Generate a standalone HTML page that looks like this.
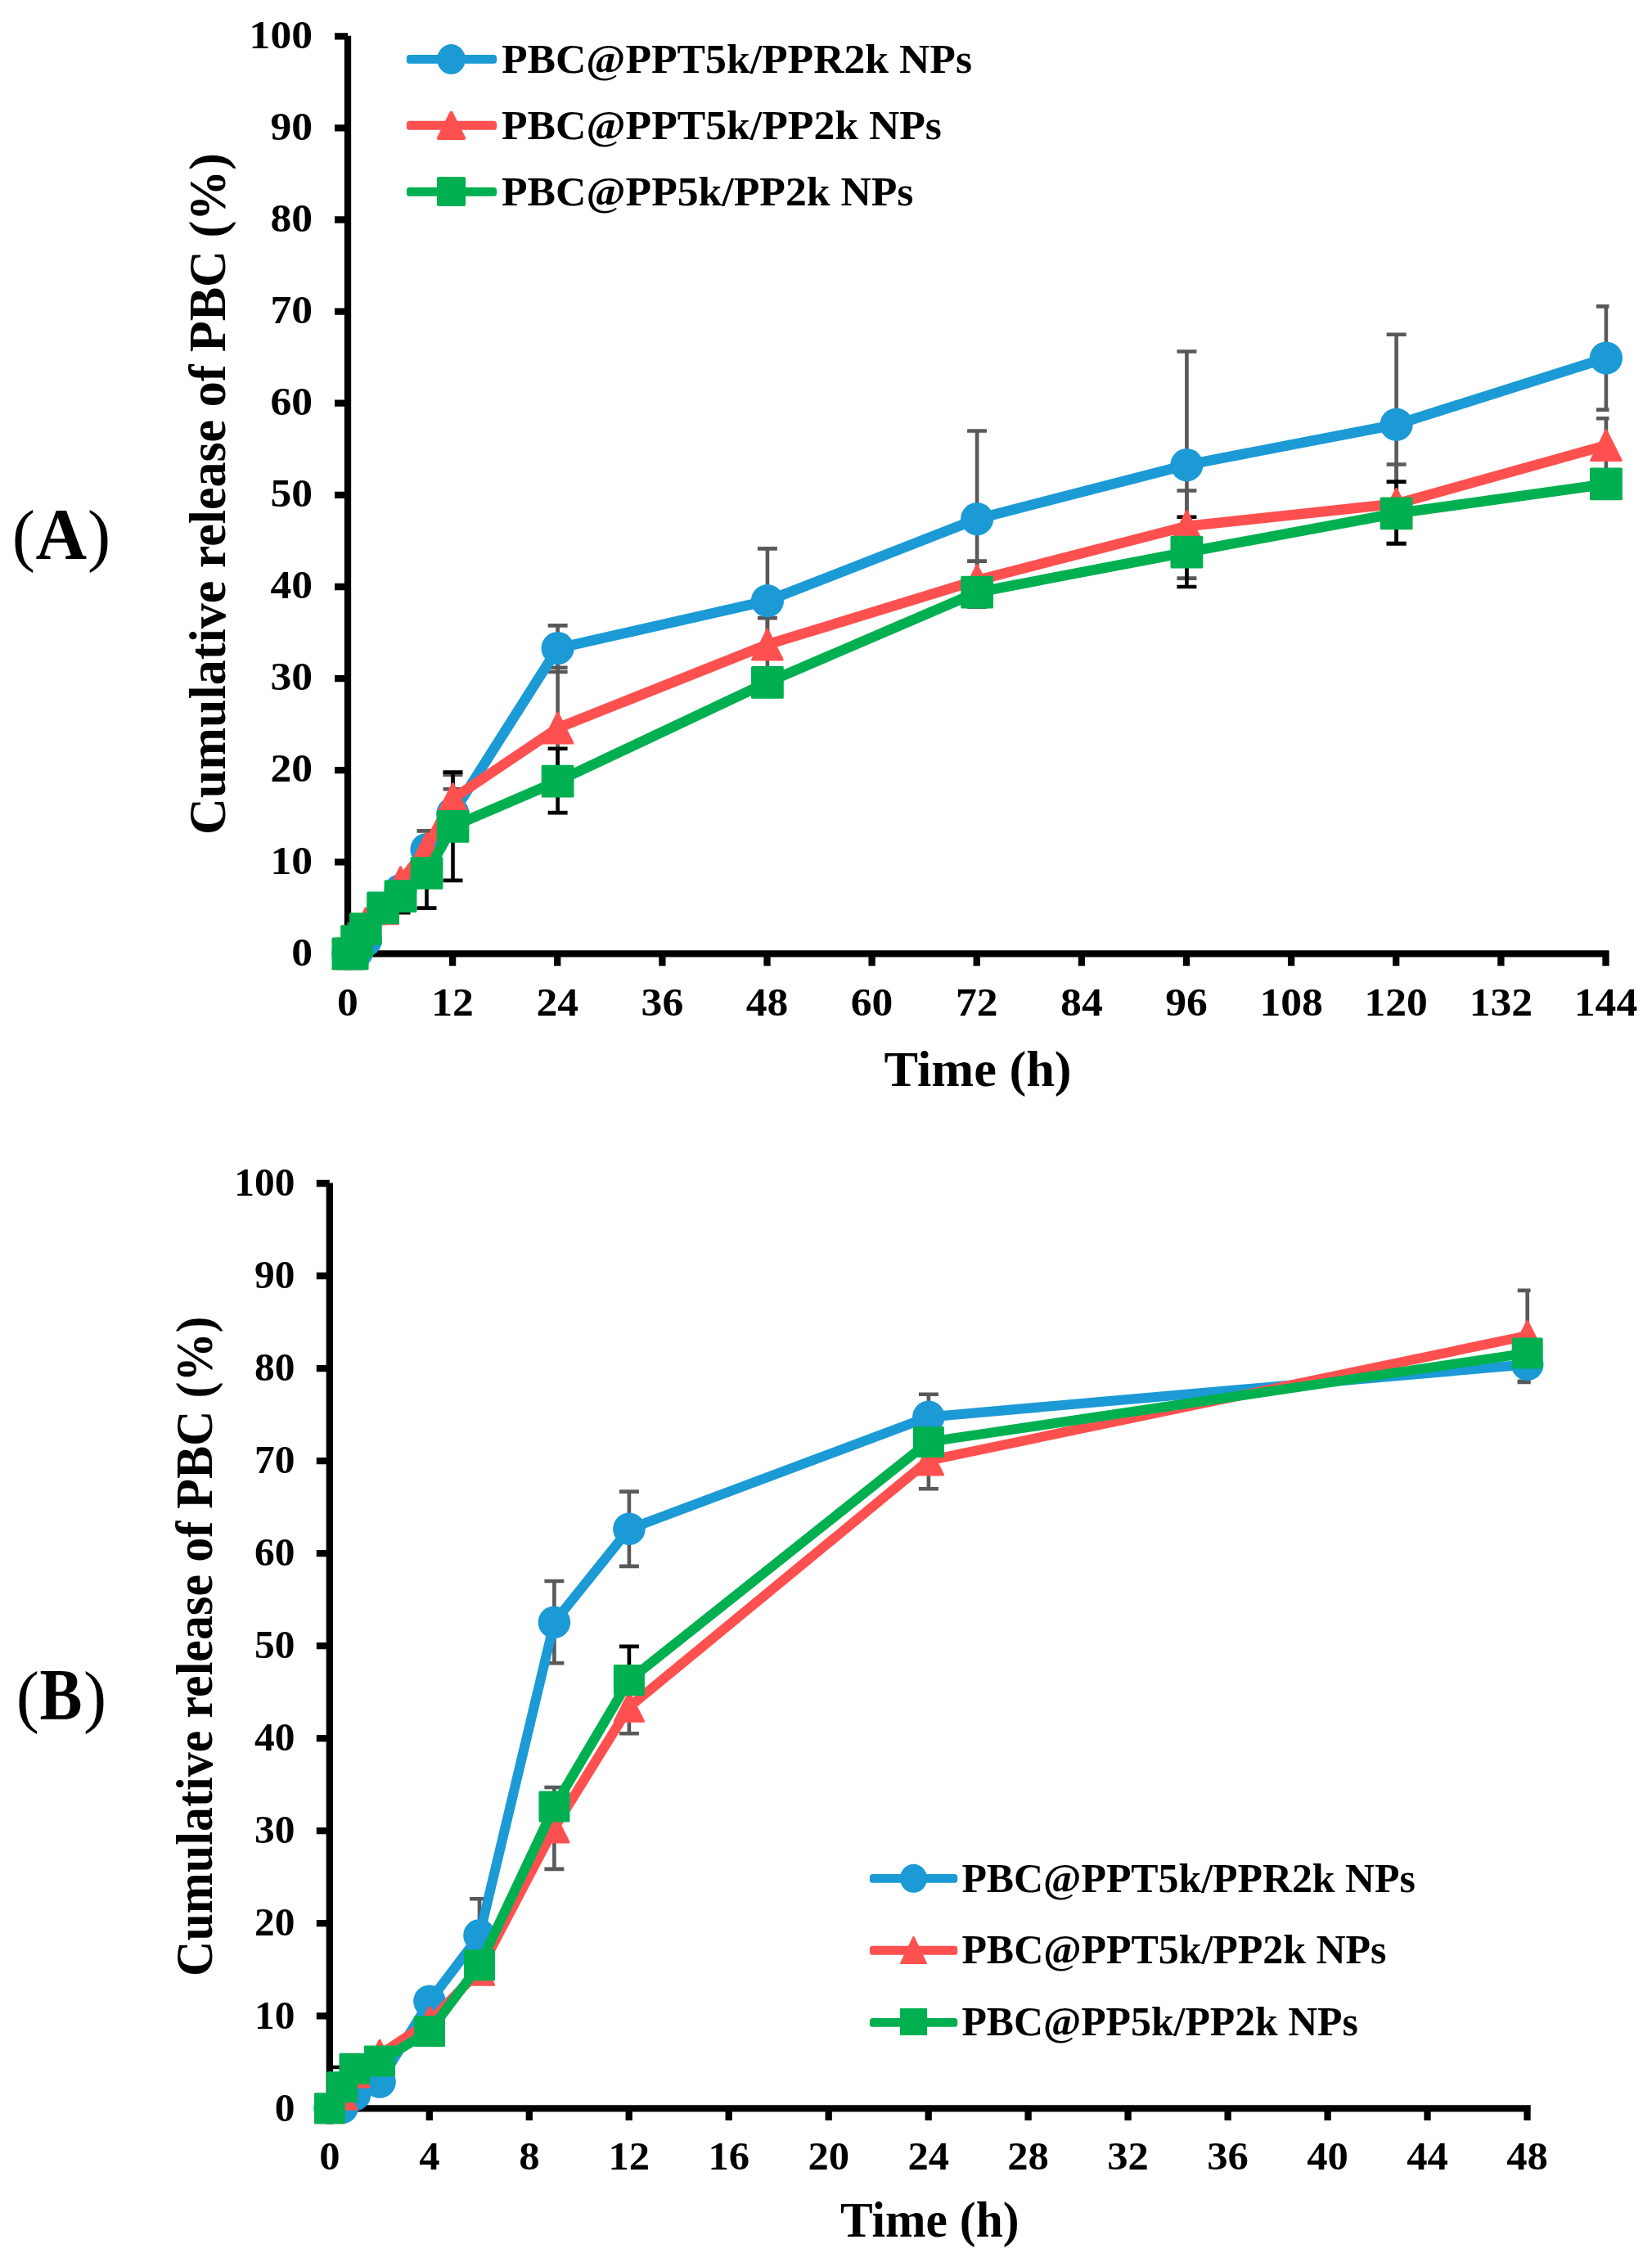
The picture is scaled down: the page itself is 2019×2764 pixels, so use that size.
<!DOCTYPE html>
<html lang="en"><head><meta charset="utf-8"><title>Cumulative release of PBC</title>
<style>html,body{margin:0;padding:0;background:#fff}svg{display:block}</style></head><body>
<svg width="2019" height="2764" viewBox="0 0 2019 2764">
<rect width="2019" height="2764" fill="#fff"/>
<g stroke="#000" stroke-width="8.3" fill="none">
<path d="M425.0 43.7V1169.6M420.9 1165.4H1966.6M409.0 1165.4H425.0M409.0 1053.3H425.0M409.0 941.2H425.0M409.0 829.1H425.0M409.0 717.0H425.0M409.0 604.9H425.0M409.0 492.7H425.0M409.0 380.6H425.0M409.0 268.5H425.0M409.0 156.4H425.0M409.0 44.3H425.0M425.0 1165.4V1180.2M553.1 1165.4V1180.2M681.2 1165.4V1180.2M809.4 1165.4V1180.2M937.5 1165.4V1180.2M1065.6 1165.4V1180.2M1193.7 1165.4V1180.2M1321.9 1165.4V1180.2M1450.0 1165.4V1180.2M1578.1 1165.4V1180.2M1706.2 1165.4V1180.2M1834.4 1165.4V1180.2M1962.5 1165.4V1180.2"/></g>
<clipPath id="clipA"><rect x="421.0" y="34.3" width="1545.5" height="1135.1"/></clipPath>
<g clip-path="url(#clipA)" fill="none" stroke-width="4.6">
<path d="M521.5 1060.5V1015.4M509.5 1060.5H533.5M509.5 1015.4H533.5" stroke="#595959"/>
<path d="M553.5 1023.5V964.3M541.5 1023.5H565.5M541.5 964.3H565.5" stroke="#595959"/>
<path d="M681.6 821.0V764.4M669.6 821.0H693.6M669.6 764.4H693.6" stroke="#595959"/>
<path d="M937.9 798.0V670.4M925.9 798.0H949.9M925.9 670.4H949.9" stroke="#595959"/>
<path d="M1194.1 741.7V526.5M1182.1 741.7H1206.1M1182.1 526.5H1206.1" stroke="#595959"/>
<path d="M1450.4 706.6V429.5M1438.4 706.6H1462.4M1438.4 429.5H1462.4" stroke="#595959"/>
<path d="M1706.6 629.1V408.7M1694.6 629.1H1718.6M1694.6 408.7H1718.6" stroke="#595959"/>
<path d="M1962.9 500.6V374.4M1950.9 500.6H1974.9M1950.9 374.4H1974.9" stroke="#595959"/>
<path d="M436.1 1157.0V1129.0M424.1 1157.0H448.1M424.1 1129.0H448.1" stroke="#595959"/>
<path d="M553.5 1005.1V946.8M541.5 1005.1H565.5M541.5 946.8H565.5" stroke="#595959"/>
<path d="M681.6 963.6V815.7M669.6 963.6H693.6M669.6 815.7H693.6" stroke="#595959"/>
<path d="M937.9 820.1V755.1M925.9 820.1H949.9M925.9 755.1H949.9" stroke="#595959"/>
<path d="M1194.1 732.7V685.6M1182.1 732.7H1206.1M1182.1 685.6H1206.1" stroke="#595959"/>
<path d="M1450.4 686.4V599.5M1438.4 686.4H1462.4M1438.4 599.5H1462.4" stroke="#595959"/>
<path d="M1706.6 663.7V567.5M1694.6 663.7H1718.6M1694.6 567.5H1718.6" stroke="#595959"/>
<path d="M1962.9 576.8V511.2M1950.9 576.8H1974.9M1950.9 511.2H1974.9" stroke="#595959"/>
<path d="M489.5 1115.3V1074.9M477.5 1115.3H501.5M477.5 1074.9H501.5" stroke="#000"/>
<path d="M521.5 1109.6V1024.1M509.5 1109.6H533.5M509.5 1024.1H533.5" stroke="#000"/>
<path d="M553.5 1075.9V943.6M541.5 1075.9H565.5M541.5 943.6H565.5" stroke="#000"/>
<path d="M681.6 993.1V914.8M669.6 993.1H693.6M669.6 914.8H693.6" stroke="#000"/>
<path d="M1450.4 717.0V631.8M1438.4 717.0H1462.4M1438.4 631.8H1462.4" stroke="#000"/>
<path d="M1706.6 664.5V588.6M1694.6 664.5H1718.6M1694.6 588.6H1718.6" stroke="#000"/>
</g>
<g font-family="&quot;Liberation Serif&quot;, serif" font-weight="bold" font-size="48" fill="#000">
<text transform="translate(382.0 1179.6) scale(1.075 1)" text-anchor="end">0</text>
<text transform="translate(382.0 1067.5) scale(1.075 1)" text-anchor="end">10</text>
<text transform="translate(382.0 955.4) scale(1.075 1)" text-anchor="end">20</text>
<text transform="translate(382.0 843.3) scale(1.075 1)" text-anchor="end">30</text>
<text transform="translate(382.0 731.2) scale(1.075 1)" text-anchor="end">40</text>
<text transform="translate(382.0 619.1) scale(1.075 1)" text-anchor="end">50</text>
<text transform="translate(382.0 506.9) scale(1.075 1)" text-anchor="end">60</text>
<text transform="translate(382.0 394.8) scale(1.075 1)" text-anchor="end">70</text>
<text transform="translate(382.0 282.7) scale(1.075 1)" text-anchor="end">80</text>
<text transform="translate(382.0 170.6) scale(1.075 1)" text-anchor="end">90</text>
<text transform="translate(382.0 58.5) scale(1.075 1)" text-anchor="end">100</text>
<text transform="translate(425.0 1241.3) scale(1.075 1)" text-anchor="middle">0</text>
<text transform="translate(553.1 1241.3) scale(1.075 1)" text-anchor="middle">12</text>
<text transform="translate(681.2 1241.3) scale(1.075 1)" text-anchor="middle">24</text>
<text transform="translate(809.4 1241.3) scale(1.075 1)" text-anchor="middle">36</text>
<text transform="translate(937.5 1241.3) scale(1.075 1)" text-anchor="middle">48</text>
<text transform="translate(1065.6 1241.3) scale(1.075 1)" text-anchor="middle">60</text>
<text transform="translate(1193.7 1241.3) scale(1.075 1)" text-anchor="middle">72</text>
<text transform="translate(1321.9 1241.3) scale(1.075 1)" text-anchor="middle">84</text>
<text transform="translate(1450.0 1241.3) scale(1.075 1)" text-anchor="middle">96</text>
<text transform="translate(1578.1 1241.3) scale(1.075 1)" text-anchor="middle">108</text>
<text transform="translate(1706.2 1241.3) scale(1.075 1)" text-anchor="middle">120</text>
<text transform="translate(1834.4 1241.3) scale(1.075 1)" text-anchor="middle">132</text>
<text transform="translate(1962.5 1241.3) scale(1.075 1)" text-anchor="middle">144</text>
</g>
<polyline points="425.4,1165.4 430.7,1164.8 436.1,1163.2 446.8,1149.1 468.1,1110.5 489.5,1088.0 521.5,1038.0 553.5,993.9 681.6,792.1 937.9,734.2 1194.1,634.1 1450.4,568.1 1706.6,518.7 1962.9,437.5" fill="none" stroke="#1B9AD6" stroke-width="12.6" stroke-linejoin="round" stroke-linecap="round"/>
<circle cx="425.4" cy="1165.4" r="20.10" fill="#1B9AD6"/><circle cx="430.7" cy="1164.8" r="20.10" fill="#1B9AD6"/><circle cx="436.1" cy="1163.2" r="20.10" fill="#1B9AD6"/><circle cx="446.8" cy="1149.1" r="20.10" fill="#1B9AD6"/><circle cx="468.1" cy="1110.5" r="20.10" fill="#1B9AD6"/><circle cx="489.5" cy="1088.0" r="20.10" fill="#1B9AD6"/><circle cx="521.5" cy="1038.0" r="20.10" fill="#1B9AD6"/><circle cx="553.5" cy="993.9" r="20.10" fill="#1B9AD6"/><circle cx="681.6" cy="792.1" r="20.10" fill="#1B9AD6"/><circle cx="937.9" cy="734.2" r="20.10" fill="#1B9AD6"/><circle cx="1194.1" cy="634.1" r="20.10" fill="#1B9AD6"/><circle cx="1450.4" cy="568.1" r="20.10" fill="#1B9AD6"/><circle cx="1706.6" cy="518.7" r="20.10" fill="#1B9AD6"/><circle cx="1962.9" cy="437.5" r="20.10" fill="#1B9AD6"/>
<polyline points="425.4,1165.4 430.7,1154.2 436.1,1143.0 446.8,1128.4 468.1,1110.5 489.5,1078.0 521.5,1036.5 553.5,975.9 681.6,889.6 937.9,787.6 1194.1,709.1 1450.4,643.0 1706.6,615.6 1962.9,544.3" fill="none" stroke="#FF5050" stroke-width="12.6" stroke-linejoin="round" stroke-linecap="round"/>
<path d="M425.4 1147.1L443.7 1183.7H407.1Z" fill="#FF5050" stroke="#FF5050" stroke-width="3.0" stroke-linejoin="round"/><path d="M430.7 1135.9L449.0 1172.5H412.4Z" fill="#FF5050" stroke="#FF5050" stroke-width="3.0" stroke-linejoin="round"/><path d="M436.1 1124.7L454.4 1161.3H417.8Z" fill="#FF5050" stroke="#FF5050" stroke-width="3.0" stroke-linejoin="round"/><path d="M446.8 1110.1L465.1 1146.7H428.5Z" fill="#FF5050" stroke="#FF5050" stroke-width="3.0" stroke-linejoin="round"/><path d="M468.1 1092.2L486.4 1128.8H449.8Z" fill="#FF5050" stroke="#FF5050" stroke-width="3.0" stroke-linejoin="round"/><path d="M489.5 1059.7L507.8 1096.3H471.2Z" fill="#FF5050" stroke="#FF5050" stroke-width="3.0" stroke-linejoin="round"/><path d="M521.5 1018.2L539.8 1054.8H503.2Z" fill="#FF5050" stroke="#FF5050" stroke-width="3.0" stroke-linejoin="round"/><path d="M553.5 957.6L571.8 994.2H535.2Z" fill="#FF5050" stroke="#FF5050" stroke-width="3.0" stroke-linejoin="round"/><path d="M681.6 871.3L699.9 907.9H663.3Z" fill="#FF5050" stroke="#FF5050" stroke-width="3.0" stroke-linejoin="round"/><path d="M937.9 769.3L956.2 805.9H919.6Z" fill="#FF5050" stroke="#FF5050" stroke-width="3.0" stroke-linejoin="round"/><path d="M1194.1 690.8L1212.4 727.4H1175.8Z" fill="#FF5050" stroke="#FF5050" stroke-width="3.0" stroke-linejoin="round"/><path d="M1450.4 624.7L1468.7 661.3H1432.1Z" fill="#FF5050" stroke="#FF5050" stroke-width="3.0" stroke-linejoin="round"/><path d="M1706.6 597.3L1724.9 633.9H1688.3Z" fill="#FF5050" stroke="#FF5050" stroke-width="3.0" stroke-linejoin="round"/><path d="M1962.9 526.0L1981.2 562.6H1944.6Z" fill="#FF5050" stroke="#FF5050" stroke-width="3.0" stroke-linejoin="round"/>
<polyline points="425.4,1165.4 430.7,1165.4 436.1,1150.2 446.8,1135.2 468.1,1109.3 489.5,1095.1 521.5,1066.9 553.5,1009.8 681.6,954.6 937.9,833.8 1194.1,723.7 1450.4,674.7 1706.6,627.3 1962.9,591.4" fill="none" stroke="#00B050" stroke-width="12.6" stroke-linejoin="round" stroke-linecap="round"/>
<rect x="405.5" y="1145.5" width="39.8" height="39.8" rx="1.5" fill="#00B050"/><rect x="410.8" y="1145.5" width="39.8" height="39.8" rx="1.5" fill="#00B050"/><rect x="416.2" y="1130.3" width="39.8" height="39.8" rx="1.5" fill="#00B050"/><rect x="426.9" y="1115.3" width="39.8" height="39.8" rx="1.5" fill="#00B050"/><rect x="448.2" y="1089.4" width="39.8" height="39.8" rx="1.5" fill="#00B050"/><rect x="469.6" y="1075.2" width="39.8" height="39.8" rx="1.5" fill="#00B050"/><rect x="501.6" y="1047.0" width="39.8" height="39.8" rx="1.5" fill="#00B050"/><rect x="533.6" y="989.9" width="39.8" height="39.8" rx="1.5" fill="#00B050"/><rect x="661.7" y="934.7" width="39.8" height="39.8" rx="1.5" fill="#00B050"/><rect x="918.0" y="813.9" width="39.8" height="39.8" rx="1.5" fill="#00B050"/><rect x="1174.2" y="703.8" width="39.8" height="39.8" rx="1.5" fill="#00B050"/><rect x="1430.5" y="654.8" width="39.8" height="39.8" rx="1.5" fill="#00B050"/><rect x="1686.7" y="607.4" width="39.8" height="39.8" rx="1.5" fill="#00B050"/><rect x="1943.0" y="571.5" width="39.8" height="39.8" rx="1.5" fill="#00B050"/>
<rect x="496.9" y="66.95" width="110.2" height="10.9" rx="3.6" fill="#1B9AD6"/>
<ellipse cx="551.5" cy="72.4" rx="17.30" ry="18.40" fill="#1B9AD6"/>
<text font-family="&quot;Liberation Serif&quot;, serif" font-weight="bold" font-size="51.3" x="613.0" y="88.6" textLength="575.0" lengthAdjust="spacingAndGlyphs">PBC@PPT5k/PPR2k NPs</text>
<rect x="496.9" y="147.85" width="110.2" height="10.9" rx="3.6" fill="#FF5050"/>
<path d="M551.5 138.0L566.9 168.7H536.1Z" fill="#FF5050" stroke="#FF5050" stroke-width="4.4" stroke-linejoin="round"/>
<text font-family="&quot;Liberation Serif&quot;, serif" font-weight="bold" font-size="51.3" x="613.0" y="169.5" textLength="538.0" lengthAdjust="spacingAndGlyphs">PBC@PPT5k/PP2k NPs</text>
<rect x="496.9" y="228.95" width="110.2" height="10.9" rx="3.6" fill="#00B050"/>
<rect x="533.9" y="215.9" width="35.2" height="36.0" rx="2.2" fill="#00B050"/>
<text font-family="&quot;Liberation Serif&quot;, serif" font-weight="bold" font-size="51.3" x="613.0" y="250.5" textLength="503.5" lengthAdjust="spacingAndGlyphs">PBC@PP5k/PP2k NPs</text>
<g stroke="#000" stroke-width="8.3" fill="none">
<path d="M402.8 1445.4V2580.5M398.7 2576.3H1870.7M386.8 2576.3H402.8M386.8 2463.3H402.8M386.8 2350.2H402.8M386.8 2237.2H402.8M386.8 2124.2H402.8M386.8 2011.2H402.8M386.8 1898.1H402.8M386.8 1785.1H402.8M386.8 1672.1H402.8M386.8 1559.0H402.8M386.8 1446.0H402.8M402.8 2576.3V2591.1M524.8 2576.3V2591.1M646.8 2576.3V2591.1M768.7 2576.3V2591.1M890.7 2576.3V2591.1M1012.7 2576.3V2591.1M1134.7 2576.3V2591.1M1256.6 2576.3V2591.1M1378.6 2576.3V2591.1M1500.6 2576.3V2591.1M1622.6 2576.3V2591.1M1744.5 2576.3V2591.1M1866.5 2576.3V2591.1"/></g>
<clipPath id="clipB"><rect x="398.8" y="1436.0" width="1471.7" height="1144.3"/></clipPath>
<g clip-path="url(#clipB)" fill="none" stroke-width="4.6">
<path d="M586.0 2409.6V2320.3M574.0 2409.6H598.0M574.0 2320.3H598.0" stroke="#595959"/>
<path d="M677.4 2032.2V1932.0M665.4 2032.2H689.4M665.4 1932.0H689.4" stroke="#595959"/>
<path d="M768.9 1913.9V1822.6M756.9 1913.9H780.9M756.9 1822.6H780.9" stroke="#595959"/>
<path d="M1134.9 1759.1V1703.7M1122.9 1759.1H1146.9M1122.9 1703.7H1146.9" stroke="#595959"/>
<path d="M1866.7 1689.0V1646.1M1854.7 1689.0H1878.7M1854.7 1646.1H1878.7" stroke="#595959"/>
<path d="M677.4 2283.9V2184.0M665.4 2283.9H689.4M665.4 2184.0H689.4" stroke="#595959"/>
<path d="M768.9 2118.2V2053.5M756.9 2118.2H780.9M756.9 2053.5H780.9" stroke="#595959"/>
<path d="M1134.9 1819.3V1750.1M1122.9 1819.3H1146.9M1122.9 1750.1H1146.9" stroke="#595959"/>
<path d="M1866.7 1687.9V1576.9M1854.7 1687.9H1878.7M1854.7 1576.9H1878.7" stroke="#595959"/>
<path d="M418.2 2574.6V2526.0M406.2 2574.6H430.2M406.2 2526.0H430.2" stroke="#000"/>
<path d="M768.9 2094.2V2011.9M756.9 2094.2H780.9M756.9 2011.9H780.9" stroke="#000"/>
</g>
<g font-family="&quot;Liberation Serif&quot;, serif" font-weight="bold" font-size="48" fill="#000">
<text transform="translate(360.4 2591.5) scale(1.03 1)" text-anchor="end">0</text>
<text transform="translate(360.4 2478.5) scale(1.03 1)" text-anchor="end">10</text>
<text transform="translate(360.4 2365.4) scale(1.03 1)" text-anchor="end">20</text>
<text transform="translate(360.4 2252.4) scale(1.03 1)" text-anchor="end">30</text>
<text transform="translate(360.4 2139.4) scale(1.03 1)" text-anchor="end">40</text>
<text transform="translate(360.4 2026.4) scale(1.03 1)" text-anchor="end">50</text>
<text transform="translate(360.4 1913.3) scale(1.03 1)" text-anchor="end">60</text>
<text transform="translate(360.4 1800.3) scale(1.03 1)" text-anchor="end">70</text>
<text transform="translate(360.4 1687.3) scale(1.03 1)" text-anchor="end">80</text>
<text transform="translate(360.4 1574.2) scale(1.03 1)" text-anchor="end">90</text>
<text transform="translate(360.4 1461.2) scale(1.03 1)" text-anchor="end">100</text>
<text transform="translate(402.8 2650.9) scale(1.055 1)" text-anchor="middle">0</text>
<text transform="translate(524.8 2650.9) scale(1.055 1)" text-anchor="middle">4</text>
<text transform="translate(646.8 2650.9) scale(1.055 1)" text-anchor="middle">8</text>
<text transform="translate(768.7 2650.9) scale(1.055 1)" text-anchor="middle">12</text>
<text transform="translate(890.7 2650.9) scale(1.055 1)" text-anchor="middle">16</text>
<text transform="translate(1012.7 2650.9) scale(1.055 1)" text-anchor="middle">20</text>
<text transform="translate(1134.7 2650.9) scale(1.055 1)" text-anchor="middle">24</text>
<text transform="translate(1256.6 2650.9) scale(1.055 1)" text-anchor="middle">28</text>
<text transform="translate(1378.6 2650.9) scale(1.055 1)" text-anchor="middle">32</text>
<text transform="translate(1500.6 2650.9) scale(1.055 1)" text-anchor="middle">36</text>
<text transform="translate(1622.6 2650.9) scale(1.055 1)" text-anchor="middle">40</text>
<text transform="translate(1744.5 2650.9) scale(1.055 1)" text-anchor="middle">44</text>
<text transform="translate(1866.5 2650.9) scale(1.055 1)" text-anchor="middle">48</text>
</g>
<polyline points="403.0,2576.3 418.2,2575.2 433.5,2559.6 464.0,2543.9 525.0,2445.3 586.0,2364.9 677.4,1982.3 768.9,1868.3 1134.9,1731.4 1866.7,1667.3" fill="none" stroke="#1B9AD6" stroke-width="12.0" stroke-linejoin="round" stroke-linecap="round"/>
<circle cx="403.0" cy="2576.3" r="19.80" fill="#1B9AD6"/><circle cx="418.2" cy="2575.2" r="19.80" fill="#1B9AD6"/><circle cx="433.5" cy="2559.6" r="19.80" fill="#1B9AD6"/><circle cx="464.0" cy="2543.9" r="19.80" fill="#1B9AD6"/><circle cx="525.0" cy="2445.3" r="19.80" fill="#1B9AD6"/><circle cx="586.0" cy="2364.9" r="19.80" fill="#1B9AD6"/><circle cx="677.4" cy="1982.3" r="19.80" fill="#1B9AD6"/><circle cx="768.9" cy="1868.3" r="19.80" fill="#1B9AD6"/><circle cx="1134.9" cy="1731.4" r="19.80" fill="#1B9AD6"/><circle cx="1866.7" cy="1667.3" r="19.80" fill="#1B9AD6"/>
<polyline points="403.0,2576.3 418.2,2559.9 433.5,2532.8 464.0,2510.7 525.0,2470.1 586.0,2407.9 677.4,2233.6 768.9,2085.9 1134.9,1784.6 1866.7,1632.2" fill="none" stroke="#FF5050" stroke-width="12.0" stroke-linejoin="round" stroke-linecap="round"/>
<path d="M403.0 2558.9L420.6 2593.7H385.4Z" fill="#FF5050" stroke="#FF5050" stroke-width="3.0" stroke-linejoin="round"/><path d="M418.2 2542.5L435.8 2577.3H400.6Z" fill="#FF5050" stroke="#FF5050" stroke-width="3.0" stroke-linejoin="round"/><path d="M433.5 2515.4L451.1 2550.2H415.9Z" fill="#FF5050" stroke="#FF5050" stroke-width="3.0" stroke-linejoin="round"/><path d="M464.0 2493.3L481.6 2528.1H446.4Z" fill="#FF5050" stroke="#FF5050" stroke-width="3.0" stroke-linejoin="round"/><path d="M525.0 2452.7L542.6 2487.5H507.4Z" fill="#FF5050" stroke="#FF5050" stroke-width="3.0" stroke-linejoin="round"/><path d="M586.0 2390.5L603.6 2425.3H568.4Z" fill="#FF5050" stroke="#FF5050" stroke-width="3.0" stroke-linejoin="round"/><path d="M677.4 2216.2L695.0 2251.0H659.8Z" fill="#FF5050" stroke="#FF5050" stroke-width="3.0" stroke-linejoin="round"/><path d="M768.9 2068.5L786.5 2103.3H751.3Z" fill="#FF5050" stroke="#FF5050" stroke-width="3.0" stroke-linejoin="round"/><path d="M1134.9 1767.2L1152.5 1802.0H1117.3Z" fill="#FF5050" stroke="#FF5050" stroke-width="3.0" stroke-linejoin="round"/><path d="M1866.7 1614.8L1884.3 1649.6H1849.1Z" fill="#FF5050" stroke="#FF5050" stroke-width="3.0" stroke-linejoin="round"/>
<polyline points="403.0,2576.3 418.2,2550.3 433.5,2527.8 464.0,2518.5 525.0,2482.1 586.0,2401.2 677.4,2207.6 768.9,2053.1 1134.9,1761.9 1866.7,1653.4" fill="none" stroke="#00B050" stroke-width="12.0" stroke-linejoin="round" stroke-linecap="round"/>
<rect x="384.0" y="2557.3" width="38.0" height="38.0" rx="1.5" fill="#00B050"/><rect x="399.2" y="2531.3" width="38.0" height="38.0" rx="1.5" fill="#00B050"/><rect x="414.5" y="2508.8" width="38.0" height="38.0" rx="1.5" fill="#00B050"/><rect x="445.0" y="2499.5" width="38.0" height="38.0" rx="1.5" fill="#00B050"/><rect x="506.0" y="2463.1" width="38.0" height="38.0" rx="1.5" fill="#00B050"/><rect x="567.0" y="2382.2" width="38.0" height="38.0" rx="1.5" fill="#00B050"/><rect x="658.4" y="2188.6" width="38.0" height="38.0" rx="1.5" fill="#00B050"/><rect x="749.9" y="2034.1" width="38.0" height="38.0" rx="1.5" fill="#00B050"/><rect x="1115.9" y="1742.9" width="38.0" height="38.0" rx="1.5" fill="#00B050"/><rect x="1847.7" y="1634.4" width="38.0" height="38.0" rx="1.5" fill="#00B050"/>
<rect x="1062.9" y="2289.90" width="107.3" height="10.9" rx="3.6" fill="#1B9AD6"/>
<ellipse cx="1116.5" cy="2295.3" rx="16.55" ry="17.45" fill="#1B9AD6"/>
<text font-family="&quot;Liberation Serif&quot;, serif" font-weight="bold" font-size="50.3" x="1175.4" y="2312.0" textLength="554.5" lengthAdjust="spacingAndGlyphs">PBC@PPT5k/PPR2k NPs</text>
<rect x="1062.9" y="2377.85" width="107.3" height="10.9" rx="3.6" fill="#FF5050"/>
<path d="M1116.5 2366.8L1132.0 2398.9H1101.0Z" fill="#FF5050" stroke="#FF5050" stroke-width="2.0" stroke-linejoin="round"/>
<text font-family="&quot;Liberation Serif&quot;, serif" font-weight="bold" font-size="50.3" x="1175.4" y="2399.0" textLength="519.0" lengthAdjust="spacingAndGlyphs">PBC@PPT5k/PP2k NPs</text>
<rect x="1062.9" y="2465.95" width="107.3" height="10.9" rx="3.6" fill="#00B050"/>
<rect x="1100.0" y="2453.9" width="33.1" height="33.0" rx="1.0" fill="#00B050"/>
<text font-family="&quot;Liberation Serif&quot;, serif" font-weight="bold" font-size="50.3" x="1175.4" y="2486.6" textLength="484.5" lengthAdjust="spacingAndGlyphs">PBC@PP5k/PP2k NPs</text>
<text font-family="&quot;Liberation Serif&quot;, serif" font-weight="bold" font-size="64" transform="translate(275.3 1020) rotate(-90)" textLength="832.8" lengthAdjust="spacingAndGlyphs">Cumulative release of PBC (%)</text>
<text font-family="&quot;Liberation Serif&quot;, serif" font-weight="bold" font-size="62.5" transform="translate(258.6 2415) rotate(-90)" textLength="806.5" lengthAdjust="spacingAndGlyphs">Cumulative release of PBC (%)</text>
<text font-family="&quot;Liberation Serif&quot;, serif" font-weight="bold" font-size="62" x="1080.6" y="1327.1" textLength="229" lengthAdjust="spacingAndGlyphs">Time (h)</text>
<text font-family="&quot;Liberation Serif&quot;, serif" font-weight="bold" font-size="60.5" x="1027" y="2733.1" textLength="218.5" lengthAdjust="spacingAndGlyphs">Time (h)</text>
<text font-family="&quot;Liberation Serif&quot;, serif" font-size="84.5" x="14.65" y="682.3">(</text>
<text font-family="&quot;Liberation Serif&quot;, serif" font-weight="bold" font-size="88" transform="translate(43.4 681.7) scale(0.985 1)">A</text>
<text font-family="&quot;Liberation Serif&quot;, serif" font-size="84.5" x="106.95" y="682.3">)</text>
<text font-family="&quot;Liberation Serif&quot;, serif" font-size="84.5" x="19.85" y="2100.6">(</text>
<text font-family="&quot;Liberation Serif&quot;, serif" font-weight="bold" font-size="88" transform="translate(48.6 2099.9) scale(0.885 1)">B</text>
<text font-family="&quot;Liberation Serif&quot;, serif" font-size="84.5" x="102.05" y="2100.6">)</text>
</svg></body></html>
